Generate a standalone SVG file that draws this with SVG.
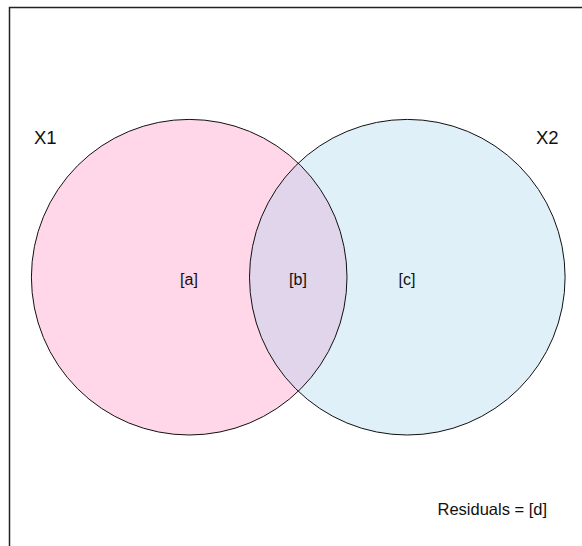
<svg xmlns="http://www.w3.org/2000/svg" width="582" height="546" viewBox="0 0 582 546">
<style>
text{font-family:"Liberation Sans",Arial,sans-serif;fill:#111}
.set{font-size:18.5px}
.lbl{font-size:16px;text-anchor:middle}
.res{font-size:16.5px}
.edge{fill:none;stroke:#111;stroke-width:1}
</style>
<defs>
<clipPath id="clipR"><circle cx="407.3" cy="277.2" r="157.8"/></clipPath>
</defs>
<rect x="0" y="0" width="582" height="546" fill="#ffffff"/>
<path d="M9.5,546 V7.5 H582" fill="none" stroke="#222" stroke-width="1.5"/>
<g id="X1">
<circle cx="189.2" cy="277.2" r="157.8" fill="#FFD7E9"/>
</g>
<g id="X2">
<circle cx="407.3" cy="277.2" r="157.8" fill="#DFF0F9"/>
</g>
<g id="overlap">
<circle cx="189.2" cy="277.2" r="157.8" fill="#E1D5EB" clip-path="url(#clipR)"/>
</g>
<g id="connectors">
<circle class="edge" cx="189.2" cy="277.2" r="157.8"/>
<circle class="edge" cx="407.3" cy="277.2" r="157.8"/>
</g>
<g id="labels">
<text class="set" x="34" y="144">X1</text>
<text class="set" x="536" y="144">X2</text>
<text class="lbl" x="189" y="284.5">[a]</text>
<text class="lbl" x="298" y="284.5">[b]</text>
<text class="lbl" x="407" y="284.5">[c]</text>
<text class="res" x="437.5" y="515">Residuals = [d]</text>
</g>
</svg>
